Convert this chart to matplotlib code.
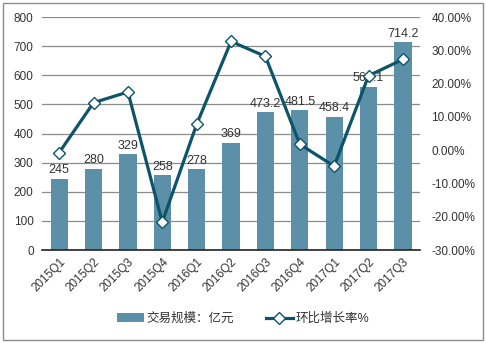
import matplotlib.pyplot as plt
from matplotlib.patches import Rectangle
from matplotlib.ticker import FuncFormatter

plt.rcParams['font.family'] = ['Liberation Sans', 'Noto Sans CJK SC', 'DejaVu Sans']

quarters = ['2015Q1', '2015Q2', '2015Q3', '2015Q4', '2016Q1', '2016Q2',
            '2016Q3', '2016Q4', '2017Q1', '2017Q2', '2017Q3']
volume = [245, 280, 329, 258, 278, 369, 473.2, 481.5, 458.4, 561.1, 714.2]
growth = [-0.7, 14.3, 17.5, -21.6, 7.8, 32.7, 28.2, 1.8, -4.8, 22.4, 27.3]
volume_labels = ['245', '280', '329', '258', '278', '369', '473.2', '481.5',
                 '458.4', '561.1', '714.2']

bar_color = '#5b90a8'
line_color = '#0d5469'
text_color = '#333333'

fig = plt.figure(figsize=(4.86, 3.43), dpi=100)
fig.patches.append(Rectangle((0.006, 0.009), 0.988, 0.982, transform=fig.transFigure,
                             fill=False, edgecolor='#8c8c8c', linewidth=1.0))
ax = fig.add_axes([0.0864, 0.271, 0.778, 0.679])

x = range(len(quarters))
bars = ax.bar(x, volume, width=0.5, color=bar_color, label='交易规模：亿元', zorder=2)
for xi, v, lab in zip(x, volume, volume_labels):
    ax.text(xi, v + 8, lab, ha='center', va='bottom', fontsize=9, color=text_color, zorder=3)

ax.set_ylim(0, 800)
ax.set_yticks(range(0, 801, 100))
ax.set_xlim(-0.5, len(quarters) - 0.5)
ax.set_xticks(list(x))
ax.set_xticklabels(quarters, rotation=45, ha='right', rotation_mode='anchor')
ax.yaxis.grid(True, color='#8c8c8c', linewidth=0.9, zorder=0)
ax.set_axisbelow(True)
for side in ['top', 'right', 'left']:
    ax.spines[side].set_visible(False)
ax.spines['bottom'].set_color('#222222')
ax.spines['bottom'].set_linewidth(1.2)
ax.tick_params(axis='both', length=0, labelsize=8.5, colors=text_color)
ax.tick_params(axis='x', pad=4)
ax.tick_params(axis='y', pad=6)

ax2 = ax.twinx()
line, = ax2.plot(list(x), growth, color=line_color, linewidth=2.3, marker='D',
                 markersize=6.5, markerfacecolor='white', markeredgecolor=line_color,
                 markeredgewidth=1.0, label='环比增长率%', zorder=4)
ax2.set_ylim(-30, 40)
ax2.set_yticks(range(-30, 41, 10))
ax2.yaxis.set_major_formatter(FuncFormatter(lambda v, p: '%.2f%%' % v))
for side in ['top', 'right', 'left', 'bottom']:
    ax2.spines[side].set_visible(False)
ax2.tick_params(axis='y', length=0, labelsize=8.5, colors=text_color, pad=8)

fig.legend([bars, line], ['交易规模：亿元', '环比增长率%'], loc='center',
           bbox_to_anchor=(0.5, 0.07), ncol=2, frameon=False, fontsize=9,
           handlelength=2.2, columnspacing=2.5, handletextpad=0.2,
           labelcolor=text_color)

fig.savefig('out.png', dpi=100, facecolor='white')
